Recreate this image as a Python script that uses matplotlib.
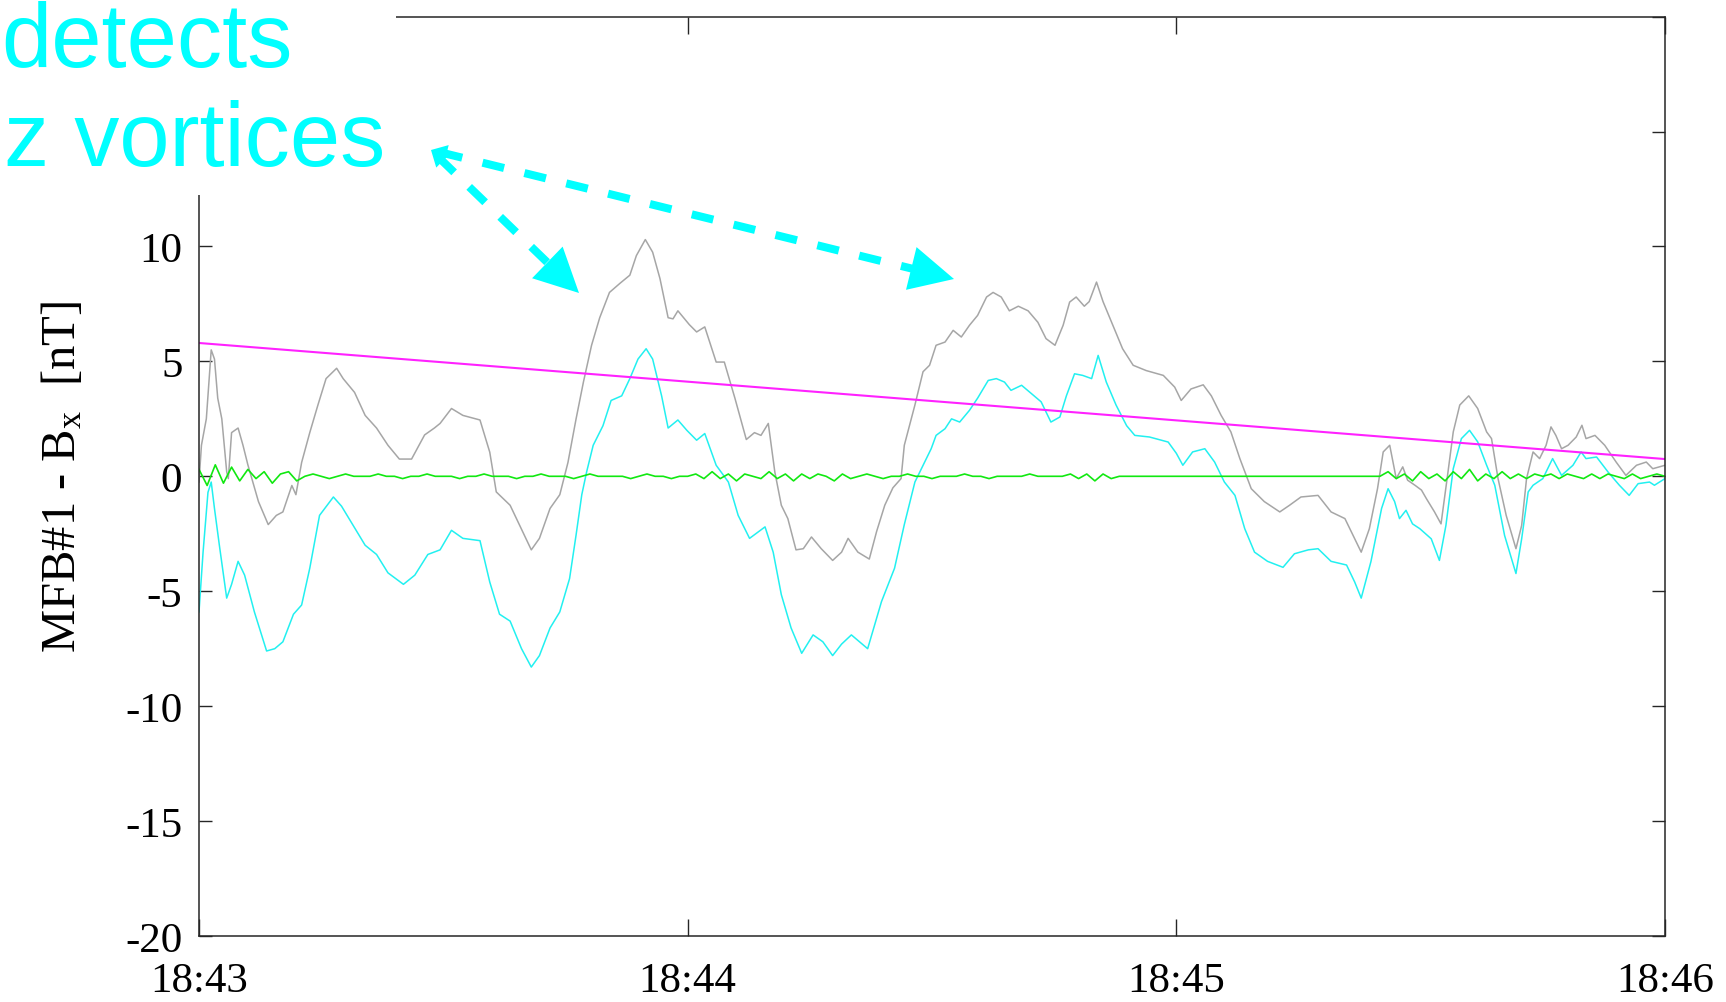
import numpy as np
import matplotlib
matplotlib.use("Agg")
import matplotlib.pyplot as plt
from matplotlib.lines import Line2D
from matplotlib.patches import Rectangle, Polygon

plt.rcParams['font.family'] = ['Liberation Serif', 'DejaVu Serif']
plt.rcParams['mathtext.fontset'] = 'custom'
plt.rcParams['mathtext.rm'] = 'Liberation Serif'
plt.rcParams['mathtext.it'] = 'Liberation Serif'
plt.rcParams['axes.unicode_minus'] = False

# seconds after 18:43 and field values [nT]
t_raw = [0, 0.3, 0.9, 1.5, 1.9, 2.3, 2.8, 3.4, 3.6, 4.0, 4.8, 5.4, 6.0, 7.3, 8.5, 9.5,
         10.3, 11.4, 11.9, 12.6, 13.6, 14.6, 15.6, 16.9, 17.7, 19.1, 20.4, 21.8, 23.2,
         24.6, 26.1, 27.7, 28.9, 29.6, 31.0, 32.4, 34.5, 35.7, 36.5, 38.2, 39.6, 40.8,
         41.8, 43.1, 44.3, 45.3, 46.3, 47.2, 48.2, 49.2, 50.4, 51.7, 52.9, 53.7, 54.8,
         55.7, 56.6, 57.6, 58.2, 58.8, 60.2, 61.1, 62.1, 63.5, 64.5, 65.8, 67.2, 68.2,
         69.0, 69.9, 70.7, 71.5, 72.3, 73.3, 74.2, 75.2, 76.4, 77.8, 78.9, 79.7, 80.9,
         82.3, 83.2, 84.2, 85.2, 86.2, 86.6, 87.9, 88.9, 89.7, 90.5, 91.6, 92.6, 93.6,
         94.6, 95.6, 96.7, 97.5, 98.5, 99.5, 100.6, 101.8, 103.0, 104.0, 105.1, 106.1,
         106.9, 107.7, 108.7, 109.3, 110.2, 111.0, 112.2, 113.4, 114.7, 116.3, 118.4,
         119.8, 120.6, 121.8, 123.3, 124.3, 125.5, 126.7, 127.8, 129.2, 130.8, 132.7,
         133.9, 135.3, 137.4, 139.0, 140.7, 141.7, 142.7, 143.7, 144.7, 145.4, 146.2,
         147.0, 147.8, 148.4, 149.3, 150.1, 150.7, 151.7, 152.5, 153.3, 154.0, 154.8,
         155.9, 157.0, 158.1, 158.7, 159.5, 160.5, 161.7, 162.4, 163.0, 163.8, 164.6,
         165.4, 166.0, 166.6, 167.3, 168.1, 169.1, 169.8, 170.3, 171.4, 172.6, 174.0,
         175.2, 176.5, 177.7, 178.5, 180.0]
bx_raw = [-0.25, 1.35, 2.5, 5.5, 5.1, 3.4, 2.5, 0.2, -0.1, 1.9, 2.1, 1.35, 0.5, -1.1, -2.1,
          -1.7, -1.55, -0.4, -0.8, 0.6, 1.9, 3.1, 4.25, 4.7, 4.25, 3.65, 2.65, 2.1, 1.35,
          0.75, 0.75, 1.8, 2.1, 2.3, 2.95, 2.65, 2.45, 1.05, -0.68, -1.26, -2.3, -3.2,
          -2.7, -1.4, -0.8, 0.6, 2.5, 4.1, 5.7, 6.9, 8.0, 8.4, 8.75, 9.6, 10.3, 9.75,
          8.6, 6.9, 6.85, 7.2, 6.6, 6.28, 6.5, 4.97, 4.97, 3.4, 1.6, 1.9, 1.78, 2.3,
          0.19, -1.26, -1.84, -3.2, -3.15, -2.64, -3.15, -3.66, -3.3, -2.7, -3.3, -3.6,
          -2.4, -1.26, -0.5, -0.1, 1.35, 3.1, 4.55, 4.83, 5.7, 5.84, 6.35, 6.06, 6.57,
          7.0, 7.8, 8.0, 7.8, 7.2, 7.4, 7.2, 6.7, 5.99, 5.7, 6.57, 7.58, 7.8, 7.4, 7.6,
          8.45, 7.6, 6.57, 5.55, 4.83, 4.6, 4.39, 3.88, 3.3, 3.8, 3.98, 3.5, 2.65, 1.93,
          0.77, -0.54, -1.1, -1.55, -1.26, -0.9, -0.83, -1.55, -1.84, -2.57, -3.3, -2.28,
          -0.54, 1.06, 1.35, -0.1, 0.41, -0.17, -0.39, -0.6, -0.97, -1.55, -2.07, 0.04,
          1.93, 3.1, 3.5, 2.95, 1.93, 1.64, -0.1, -1.7, -3.15, -2.14, -0.1, 1.06, 0.77,
          1.35, 2.15, 1.78, 1.2, 1.35, 1.71, 2.22, 1.64, 1.78, 1.35, 0.62, 0.04, 0.48,
          0.62, 0.33, 0.48]

t_det = [0, 0.5, 1.1, 1.5, 1.9, 2.5, 3.4, 4.0, 4.8, 5.6, 6.8, 8.3, 9.3, 10.3, 11.6, 12.6,
         13.6, 14.8, 16.5, 17.5, 18.7, 20.4, 21.8, 23.2, 25.1, 26.5, 28.1, 29.6, 31.0,
         32.4, 34.5, 35.7, 36.9, 38.2, 39.6, 40.8, 41.8, 43.1, 44.3, 45.5, 46.3, 47.0,
         47.6, 48.4, 49.6, 50.6, 51.9, 52.9, 53.9, 54.9, 55.7, 56.8, 57.6, 58.8, 59.9,
         61.1, 62.1, 63.5, 65.0, 66.2, 67.6, 69.5, 70.5, 71.5, 72.7, 74.0, 75.4, 76.6,
         77.8, 78.9, 80.1, 82.1, 83.8, 85.4, 86.6, 87.9, 89.1, 89.9, 90.5, 91.6, 92.4,
         93.4, 94.6, 95.6, 96.9, 97.9, 98.9, 99.7, 101.0, 102.2, 103.4, 104.6, 105.7,
         106.5, 107.5, 108.5, 109.6, 110.4, 111.4, 112.6, 113.9, 114.9, 116.7, 119.0,
         120.0, 120.8, 122.0, 123.5, 124.7, 125.9, 127.2, 128.4, 129.6, 131.2, 133.1,
         134.5, 136.2, 137.4, 139.0, 140.9, 141.9, 142.7, 143.9, 145.2, 146.0, 146.8,
         147.4, 148.2, 149.0, 149.9, 151.3, 152.3, 153.1, 154.0, 155.0, 156.0, 157.0,
         158.1, 159.1, 160.3, 161.7, 162.4, 163.2, 163.8, 165.0, 166.2, 167.3, 168.7,
         169.7, 170.3, 171.6, 173.0, 174.4, 175.6, 176.7, 178.1, 178.7, 180.0]
bx_det = [-5.9, -3.3, -0.7, -0.25, -1.4, -3.0, -5.3, -4.7, -3.7, -4.3, -5.9, -7.6, -7.5,
          -7.2, -6.0, -5.6, -4.0, -1.7, -0.9, -1.3, -2.0, -3.0, -3.4, -4.2, -4.7, -4.3,
          -3.4, -3.2, -2.35, -2.7, -2.8, -4.6, -6.0, -6.3, -7.5, -8.3, -7.8, -6.6, -5.9,
          -4.45, -2.55, -0.8, 0.2, 1.35, 2.2, 3.3, 3.5, 4.25, 5.1, 5.55, 5.1, 3.5, 2.1,
          2.45, 2.0, 1.57, 1.86, 0.48, -0.25, -1.7, -2.7, -2.2, -3.3, -5.15, -6.6, -7.7,
          -6.9, -7.2, -7.8, -7.3, -6.9, -7.5, -5.45, -4.0, -2.1, -0.25, 0.62, 1.2, 1.78,
          2.07, 2.5, 2.36, 2.87, 3.4, 4.17, 4.25, 4.1, 3.74, 3.96, 3.6, 3.24, 2.36, 2.58,
          3.5, 4.46, 4.39, 4.25, 5.26, 4.1, 3.1, 2.2, 1.78, 1.71, 1.49, 1.0, 0.48, 1.06,
          1.2, 0.62, -0.25, -0.83, -2.28, -3.3, -3.7, -3.96, -3.37, -3.2, -3.15, -3.7,
          -3.86, -4.6, -5.3, -3.7, -1.4, -0.54, -1.1, -1.84, -1.48, -2.07, -2.28, -2.72,
          -3.66, -2.14, 0.33, 1.64, 2.0, 1.5, 0.48, -0.39, -2.57, -4.23, -2.72, -0.68,
          -0.39, -0.1, 0.77, 0.04, 0.48, 1.06, 0.77, 0.84, 0.19, -0.39, -0.83, -0.32,
          -0.25, -0.39, -0.1]

# linear background
t_trend = [0, 180]
bx_trend = [5.8, 0.75]

# residual, one sample per second, in 0.1 nT
resid_tenths = [3, -4, 5, -3, 4, -2, 3, -1, 2, -3, 1, 2, -2, 0, 1, 0, -1, 0, 1, 0, 0,
                0, 1, 0, 0, -1, 0, 0, 1, 0, 0, 0, -1, 0, 0, 1, 0, 0, 0, -1, 0,
                0, 1, 0, 0, 0, -1, 0, 1, 0, 0, 0, 0, -1, 0, 1, 0, 0, -1, 0, 0,
                1, -1, 2, -1, 1, -2, 1, 0, -1, 2, -1, 1, -2, 1, -1, 1, 0, -2, 1, -1,
                0, 1, 0, -1, 0, 0, 1, 0, 0, -1, 0, 0, 0, 1, 0, 0, -1, 0, 0, 0,
                0, 1, 0, 0, 0, 0, 1, -1, 1, -2, 1, -1, 0, 0, 0, 0, 0, 0, 0, 0,
                0, 0, 0, 0, 0, 0, 0, 0, 0, 0, 0, 0, 0, 0, 0, 0, 0, 0, 0, 0,
                0, 0, 0, 0, 0, 2, -1, 1, -2, 2, -1, 1, -2, 2, -1, 3, -2, 1, -1, 2,
                -1, 1, -1, 1, 0, 1, -1, 1, 0, -1, 1, -1, 1, 0, -1, 1, -1, 0, 1, 0]
t_resid = np.arange(len(resid_tenths))
bx_resid = np.array(resid_tenths) / 10.0

time_ticks = [0, 60, 120, 180]
time_labels = ['18:43', '18:44', '18:45', '18:46']
y_ticks = [-20, -15, -10, -5, 0, 5, 10, 15, 20]
# the upper two labels sit behind the caption panel
y_labels = ['-20', '-15', '-10', '-5', '0', '5', '10', '', '']

W, H = 1726, 1003
fig = plt.figure(figsize=(W / 100, H / 100), dpi=100)
ax = fig.add_axes([199 / W, 1 - 937 / H, (1665 - 199) / W, (937 - 17.6) / H])

ax.plot(t_raw, bx_raw, color='#a6a6a6', lw=1.1)
ax.plot(t_det, bx_det, color='#22f0f0', lw=1.1)
ax.plot(t_trend, bx_trend, color='#ff22ff', lw=1.5)
ax.plot(t_resid, bx_resid, color='#11e811', lw=1.2)

ax.set_xlim(0, 180)
ax.set_ylim(-20, 20)
ax.set_xticks(time_ticks)
ax.set_xticklabels(time_labels)
ax.set_yticks(y_ticks)
ax.set_yticklabels(y_labels)
ax.tick_params(axis='both', direction='in', top=True, right=True,
               labelsize=31, color='#262626', width=1.0)
ax.tick_params(axis='x', length=12, pad=18)
ax.tick_params(axis='y', length=9.5, pad=12)
for sp in ax.spines.values():
    sp.set_color('#262626')
    sp.set_linewidth(1.1)

ax.set_ylabel(r'MFB#1 - B$_\mathrm{x}$  [nT]', fontsize=35)
ax.yaxis.set_label_coords(-0.078, 0.5)

# white panel behind the caption
fig.add_artist(Rectangle((0, 1 - 196 / H), 396 / W, 196 / H, transform=fig.transFigure,
                         facecolor='white', edgecolor='none', zorder=3))

cyan = '#00ffff'
fig.text(1 / W, 1 - 67 / H, 'detects', color=cyan, fontsize=65, family='Liberation Sans',
         ha='left', va='baseline', zorder=4)
fig.text(4 / W, 1 - 166 / H, 'z vortices', color=cyan, fontsize=65, family='Liberation Sans',
         ha='left', va='baseline', zorder=4)


def to_fig(x, y):
    return x / W, 1 - y / H


def head(tip, direction, length, width):
    d = direction / np.hypot(*direction)
    n = np.array([-d[1], d[0]])
    base = tip - d * length
    pts = [tip, base + n * width / 2, base - n * width / 2]
    return Polygon([to_fig(*p) for p in pts], closed=True, transform=fig.transFigure,
                   facecolor=cyan, edgecolor='none', zorder=4)


def dashed_arrow(start, tip):
    start = np.array(start, float)
    tip = np.array(tip, float)
    d = tip - start
    u = d / np.hypot(*d)
    a = start + u * 10
    b = tip - u * 40
    (x0, y0), (x1, y1) = to_fig(*a), to_fig(*b)
    fig.add_artist(Line2D([x0, x1], [y0, y1], transform=fig.transFigure, color=cyan,
                          lw=5.8, dashes=(2.75, 2.6), dash_capstyle='butt', zorder=4))
    fig.add_artist(head(tip, d, 44, 44))
    fig.add_artist(head(start, -d, 16, 18))


dashed_arrow((431, 151), (579, 294))
dashed_arrow((431, 151), (954, 280))

fig.savefig('out.png', dpi=100)
